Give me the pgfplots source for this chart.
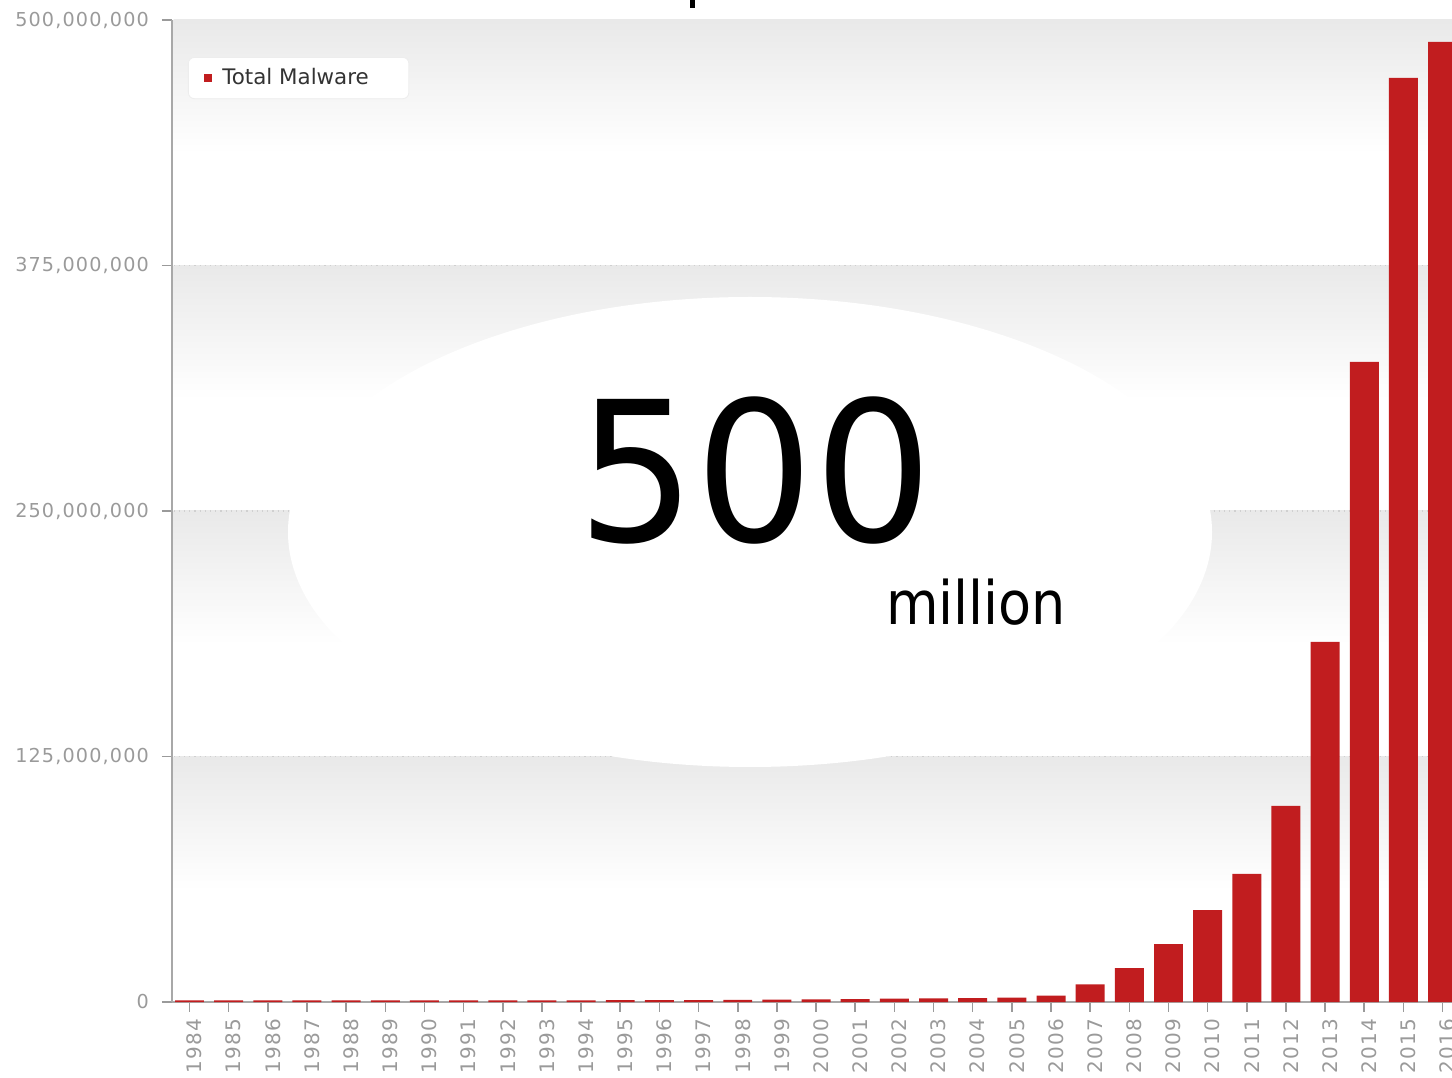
\documentclass[border=0pt]{standalone}
\usepackage{fontspec}
\setmainfont{DejaVu Sans}
\newfontfamily\condfont{DejaVu Sans Condensed}
\newfontfamily\tickfont[LetterSpace=6]{DejaVu Sans}
\usepackage{pgfplots}
\usepackage{pgfplotstable}
\pgfplotsset{compat=1.18}
\definecolor{barred}{HTML}{C11D1F}
\definecolor{tickgray}{HTML}{9A9A9A}
\definecolor{axisgray}{HTML}{A8A8A8}
\definecolor{gridgray}{HTML}{D0D0D0}
\definecolor{bandgray}{HTML}{E9E9E9}

% values in millions
\pgfplotstableread{
idx year value
0 1984 0.8
1 1985 0.8
2 1986 0.8
3 1987 0.8
4 1988 0.8
5 1989 0.8
6 1990 0.8
7 1991 0.8
8 1992 0.8
9 1993 0.8
10 1994 0.8
11 1995 0.9
12 1996 1.0
13 1997 1.0
14 1998 1.1
15 1999 1.2
16 2000 1.3
17 2001 1.5
18 2002 1.7
19 2003 1.9
20 2004 2.0
21 2005 2.2
22 2006 3.2
23 2007 9.0
24 2008 17.2
25 2009 29.5
26 2010 46.8
27 2011 65.2
28 2012 99.8
29 2013 183.3
30 2014 325.9
31 2015 470.5
32 2016 488.8
}\malware

\begin{document}
\begin{tikzpicture}
\useasboundingbox (0,0) rectangle (726pt,538.5pt);
\begin{axis}[
  at={(86pt,37.5pt)}, anchor=south west,
  scale only axis, width=640pt, height=491pt,
  xmin=-0.447, xmax=32.24, ymin=0, ymax=500,
  axis x line*=bottom, axis y line*=left,
  axis line style={draw=axisgray, line width=1.2pt, -},
  ybar, bar width=0.74,
  xtick={0,...,32},
  xticklabels from table={\malware}{year},
  ytick={0,125,250,375,500},
  yticklabels={0,{125,000,000},{250,000,000},{375,000,000},{500,000,000}},
  tick align=outside, major tick length=5pt,
  every tick/.style={draw=tickgray, line width=0.8pt},
  tick label style={text=tickgray},
  xticklabel style={font=\tickfont\fontsize{10}{12}\selectfont, rotate=90, anchor=east, yshift=-2.5pt},
  yticklabel style={font=\tickfont\fontsize{9.6}{12}\selectfont, xshift=-3pt},
  legend style={at={(0.0125,0.9623)}, anchor=north west, draw=black!7,
    fill=white, rounded corners=3pt, inner xsep=8pt, inner ysep=3.5pt,
    font=\fontsize{10.7}{12}\selectfont, text=black!80},
]
% background bands
\pgfplotsinvokeforeach{125,250,375,500}{
  \fill[top color=bandgray, bottom color=white, draw=none]
    (axis cs:-0.405,#1) rectangle (axis cs:33,#1-68);
}
\pgfplotsinvokeforeach{125,250,375}{
  \draw[gridgray, dotted, line width=0.6pt] (axis cs:-0.405,#1) -- (axis cs:33,#1);
}
\addplot[fill=barred, draw=none,
  legend image code/.code={\fill[barred, sharp corners] (0pt,-2pt) rectangle (4pt,2pt);}]
  table[x=idx, y=value] {\malware};
\addlegendentry{\kern3pt Total Malware\rule{10pt}{0pt}}
\end{axis}
% overlay
\fill[white] (375pt,272.5pt) ellipse [x radius=231pt, y radius=117.5pt];
\node[anchor=base, inner sep=0pt, font=\condfont\fontsize{97.5}{98}\selectfont] at (377.5pt,267.5pt) {\scalebox{1.06}[1]{500}};
\node[anchor=base west, inner sep=0pt, font=\condfont\fontsize{30}{30}\selectfont] at (443pt,226pt) {million};
\fill[black] (345pt,534.5pt) rectangle (347.5pt,538.5pt);
\end{tikzpicture}
\end{document}
